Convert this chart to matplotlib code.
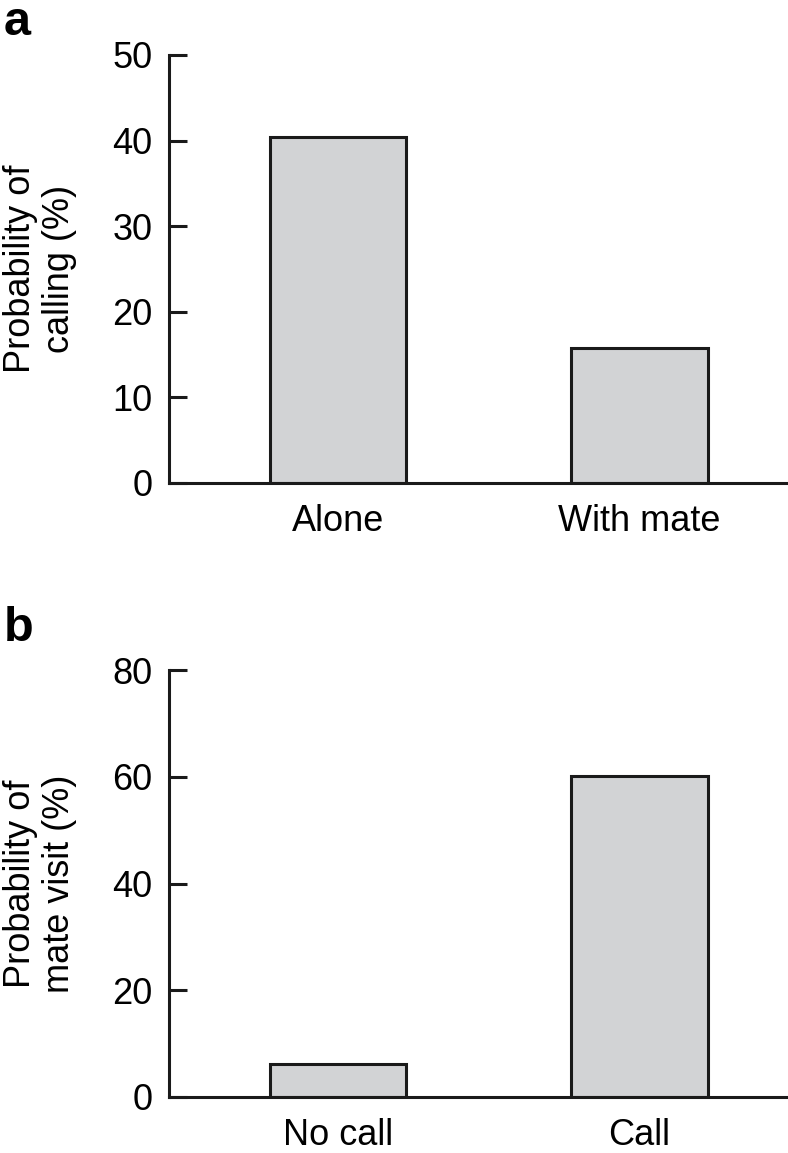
import matplotlib
matplotlib.use("Agg")
import matplotlib.pyplot as plt

plt.rcParams['font.family'] = ['Liberation Sans', 'DejaVu Sans']

cats_a = ["Alone", "With mate"]
vals_a = [40.4, 15.8]
yticks_a = [0, 10, 20, 30, 40, 50]
ylabel_a = "Probability of\ncalling (%)"

cats_b = ["No call", "Call"]
vals_b = [6.2, 60.1]
yticks_b = [0, 20, 40, 60, 80]
ylabel_b = "Probability of\nmate visit (%)"

W, H = 788, 1153
fig = plt.figure(figsize=(W / 100, H / 100), dpi=100)

bar_color = "#d2d3d5"
lw = 2.2
fs = 26

def make_panel(rect, cats, vals, yticks, ylabel, letter, letter_y):
    ax = fig.add_axes(rect)
    x = list(range(len(cats)))
    ax.bar(x, vals, width=0.452, color=bar_color, edgecolor="#1a1a1a", linewidth=lw, zorder=2)
    ax.set_xlim(-0.561, 1.493)
    ax.set_ylim(yticks[0], yticks[-1])
    ax.set_yticks(yticks)
    ax.set_xticks(x)
    ax.set_xticklabels(cats)
    for s in ["top", "right"]:
        ax.spines[s].set_visible(False)
    for s in ["left", "bottom"]:
        ax.spines[s].set_linewidth(lw)
        ax.spines[s].set_color("#1a1a1a")
    ax.tick_params(axis="y", direction="in", length=13, width=lw, pad=12, labelsize=fs, color="#1a1a1a")
    ax.tick_params(axis="x", length=0, pad=15, labelsize=fs)
    ax_w_px = rect[2] * W
    ax.text((40 - 169) / ax_w_px, 0.5, ylabel, transform=ax.transAxes, rotation=90,
            ha="center", va="center", multialignment="center", fontsize=fs, linespacing=1.15)
    fig.text(4 / W, letter_y, letter, fontsize=35, fontweight="bold", ha="left", va="top")
    return ax

left = 169 / W
width = 1 - left
make_panel([left, 1 - 483 / H, width, (483 - 55) / H], cats_a, vals_a, yticks_a, ylabel_a, "a", 1 - 0 / H)
make_panel([left, 1 - 1097 / H, width, (1097 - 670) / H], cats_b, vals_b, yticks_b, ylabel_b, "b", 1 - 606 / H)

fig.savefig("out.png", dpi=100)
